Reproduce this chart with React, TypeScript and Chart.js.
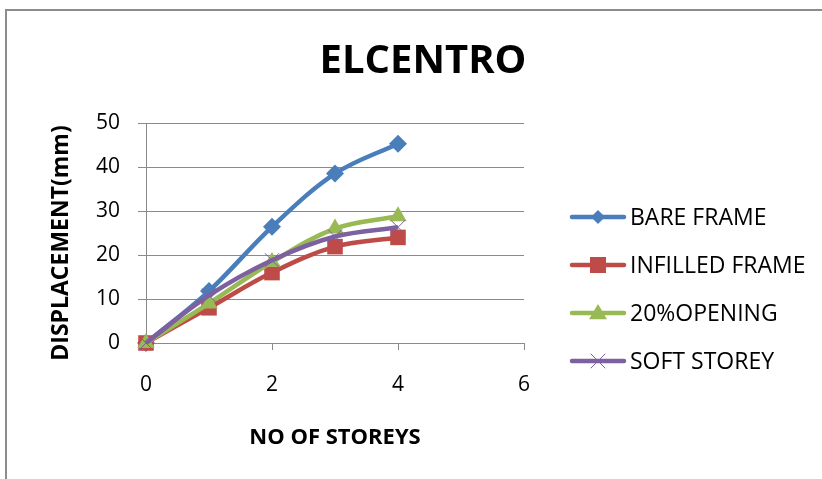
import React, { useEffect, useRef } from "react";
import { Chart, registerables } from "chart.js";

Chart.register(...registerables);

// Storey numbers along the horizontal axis
const storeys = [0, 1, 2, 3, 4];

// Displacement (mm) per model
const bareFrame = [0, 11.8, 26.4, 38.5, 45.3];
const infilledFrame = [0, 8.0, 16.0, 21.9, 24.0];
const opening20 = [0, 9.0, 18.4, 26.0, 28.8];
const softStorey = [0, 10.8, 18.8, 24.2, 26.3];

const seriesNames = ["BARE FRAME", "INFILLED FRAME", "20%OPENING", "SOFT STOREY"];
const seriesColors = ["#4A7EBB", "#BE4B48", "#98B954", "#7D60A0"];
const seriesMarkers = ["rectRot", "rect", "triangle", "crossRot"];
const seriesMarkerSize = [9, 11, 10, 10];

const xTicks = [0, 2, 4, 6];
const yTicks = [0, 10, 20, 30, 40, 50];

const chartTitle = "ELCENTRO";
const xTitle = "NO OF STOREYS";
const yTitle = "DISPLACEMENT(mm)";

const FONT = "'Open Sans', 'DejaVu Sans', sans-serif";
const GRID = "#8a8a8a";

const toPoints = (vals: number[]) => vals.map((v, i) => ({ x: storeys[i], y: v }));

function drawMarker(ctx: CanvasRenderingContext2D, style: string, r: number, x: number, y: number) {
  ctx.beginPath();
  if (style === "rectRot") {
    ctx.moveTo(x, y - r);
    ctx.lineTo(x + r, y);
    ctx.lineTo(x, y + r);
    ctx.lineTo(x - r, y);
    ctx.closePath();
    ctx.fill();
  } else if (style === "rect") {
    ctx.rect(x - r, y - r, r * 2, r * 2);
    ctx.fill();
  } else if (style === "triangle") {
    ctx.moveTo(x, y - r);
    ctx.lineTo(x + r, y + r * 0.7);
    ctx.lineTo(x - r, y + r * 0.7);
    ctx.closePath();
    ctx.fill();
  } else {
    ctx.lineWidth = 1;
    ctx.moveTo(x - r, y - r);
    ctx.lineTo(x + r, y + r);
    ctx.moveTo(x + r, y - r);
    ctx.lineTo(x - r, y + r);
    ctx.stroke();
  }
}

// Frame, headline, axis titles and the legend at the right
const decorations = {
  id: "decorations",
  afterDraw(chart: any) {
    const ctx = chart.ctx as CanvasRenderingContext2D;
    const area = chart.chartArea;
    ctx.save();

    // outer frame
    ctx.strokeStyle = "#8c8c8c";
    ctx.lineWidth = 2;
    ctx.beginPath();
    ctx.moveTo(6, 480);
    ctx.lineTo(6, 10);
    ctx.lineTo(822, 10);
    ctx.stroke();

    // headline
    ctx.fillStyle = "#000";
    ctx.textAlign = "center";
    ctx.textBaseline = "middle";
    ctx.font = `bold 40px ${FONT}`;
    ctx.fillText(chartTitle, 423, 62);

    // axis titles
    ctx.font = `bold 22px ${FONT}`;
    ctx.fillText(xTitle, 335, 438);
    ctx.save();
    ctx.translate(61, (area.top + area.bottom) / 2 + 10);
    ctx.rotate(-Math.PI / 2);
    ctx.font = `bold 23px ${FONT}`;
    ctx.fillText(yTitle, 0, 0);
    ctx.restore();

    // legend
    const rows = [217, 265, 313, 361];
    const legendMarker = [7, 8, 9, 7];
    chart.data.datasets.forEach((ds: any, i: number) => {
      const y = rows[i];
      ctx.strokeStyle = ds.borderColor;
      ctx.lineWidth = 4.5;
      ctx.lineCap = "round";
      ctx.beginPath();
      ctx.moveTo(572, y);
      ctx.lineTo(624, y);
      ctx.stroke();
      ctx.fillStyle = ds.backgroundColor;
      ctx.strokeStyle = ds.borderColor;
      drawMarker(ctx, ds.pointStyle, legendMarker[i], 598, y);
      ctx.fillStyle = "#000";
      ctx.textAlign = "left";
      ctx.textBaseline = "middle";
      ctx.font = `23px ${FONT}`;
      ctx.fillText(ds.label, 630, y + 1);
    });

    ctx.restore();
  },
};

export default function App() {
  const canvasRef = useRef<HTMLCanvasElement | null>(null);

  useEffect(() => {
    if (!canvasRef.current) return;
    const values = [bareFrame, infilledFrame, opening20, softStorey];
    const chart = new Chart(canvasRef.current, {
      type: "line",
      data: {
        datasets: values.map((vals, i) => ({
          label: seriesNames[i],
          data: toPoints(vals),
          borderColor: seriesColors[i],
          backgroundColor: seriesColors[i],
          borderWidth: 4.5,
          pointStyle: seriesMarkers[i] as any,
          pointRadius: seriesMarkerSize[i],
          pointBorderWidth: i === 3 ? 1 : 0,
          pointBorderColor: seriesColors[i],
          pointBackgroundColor: seriesColors[i],
          tension: 0.35,
          clip: false as any,
          order: 4 - i,
        })),
      },
      options: {
        responsive: false,
        animation: false,
        devicePixelRatio: 1,
        layout: { padding: { top: 123, right: 298, bottom: 0, left: 0 } },
        plugins: {
          legend: { display: false },
          title: { display: false },
          tooltip: { enabled: false },
        },
        scales: {
          x: {
            type: "linear",
            min: 0,
            max: 6,
            afterFit: (scale: any) => {
              scale.height = 136;
            },
            afterBuildTicks: (scale: any) => {
              scale.ticks = xTicks.map((v) => ({ value: v }));
            },
            grid: {
              drawOnChartArea: false,
              drawTicks: true,
              tickLength: 7,
              color: GRID,
            },
            border: { color: GRID, width: 1 },
            ticks: {
              padding: 22,
              color: "#000",
              font: { family: FONT, size: 21 },
            },
          },
          y: {
            type: "linear",
            min: 0,
            max: 50,
            afterFit: (scale: any) => {
              scale.width = 146;
            },
            afterBuildTicks: (scale: any) => {
              scale.ticks = yTicks.map((v) => ({ value: v }));
            },
            grid: {
              drawTicks: true,
              tickLength: 8,
              color: GRID,
            },
            border: { color: GRID, width: 1 },
            ticks: {
              padding: 18,
              color: "#000",
              font: { family: FONT, size: 21 },
            },
          },
        },
      },
      plugins: [decorations],
    });
    return () => chart.destroy();
  }, []);

  return (
    <div style={{ position: "absolute", left: 0, top: 0, width: 822, height: 479, background: "#fff" }}>
      <canvas ref={canvasRef} width={822} height={479} style={{ width: 822, height: 479 }} />
    </div>
  );
}
